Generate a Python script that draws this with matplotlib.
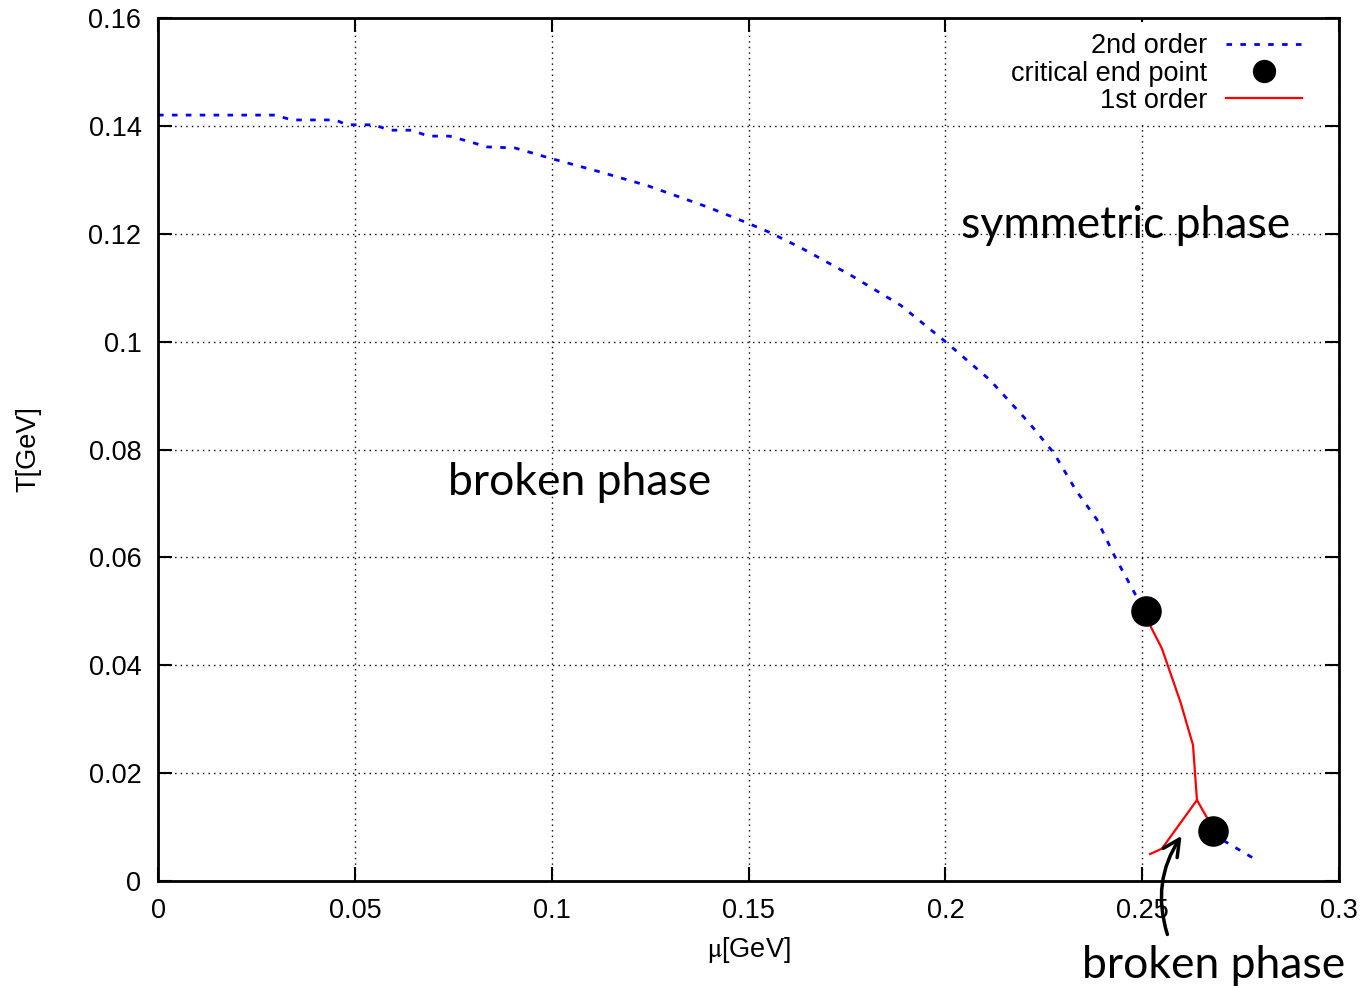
import matplotlib.pyplot as plt

plt.rcParams['mathtext.fontset'] = 'stix'

# second order line (chiral crossover), mu and T in GeV
mu_2nd = [0.0, 0.0297, 0.034, 0.045, 0.048, 0.0547, 0.059, 0.0645, 0.0686, 0.074,
          0.0785, 0.0836, 0.0907, 0.0996, 0.1126, 0.1244, 0.1398, 0.1497, 0.1552,
          0.1633, 0.1760, 0.1887, 0.2000, 0.2113, 0.2213, 0.2276, 0.2331, 0.2385,
          0.2430, 0.2485, 0.2510]
T_2nd = [0.1420, 0.1420, 0.1411, 0.1411, 0.1402, 0.1402, 0.1392, 0.1392, 0.1381, 0.1381,
         0.1372, 0.1361, 0.1359, 0.1340, 0.1314, 0.1289, 0.1249, 0.1220, 0.1203,
         0.1174, 0.1123, 0.1067, 0.1000, 0.0929, 0.0849, 0.0793, 0.0725, 0.0670,
         0.0602, 0.0528, 0.0500]

# second order piece beyond the lower end point
mu_2nd_low = [0.2681, 0.2711, 0.2783]
T_2nd_low = [0.0093, 0.0073, 0.0042]

# first order line between the two end points
mu_1st = [0.2510, 0.2522, 0.2550, 0.2597, 0.2629, 0.2639, 0.2664, 0.2681]
T_1st = [0.0500, 0.0471, 0.0431, 0.0332, 0.0252, 0.0150, 0.0118, 0.0093]

# first order branch going into the low-T broken phase
mu_1st_branch = [0.2639, 0.2550, 0.2520]
T_1st_branch = [0.0150, 0.0060, 0.0050]

# critical end points
cep_mu = [0.2510, 0.2681]
cep_T = [0.0500, 0.0093]

fig = plt.figure(figsize=(13.65, 9.89), dpi=100)
ax = fig.add_axes([0.1158, 0.1092, 0.9810 - 0.1158, 0.9818 - 0.1092])

tick_font = 'Liberation Sans'
note_font = 'Lato'

ax.plot(mu_2nd, T_2nd, color='blue', lw=2, linestyle=(0, (2, 3)), label='2nd order')
ax.plot(mu_2nd_low, T_2nd_low, color='blue', lw=2, linestyle=(0, (2, 3)))
ax.plot(cep_mu, cep_T, 'o', color='black', markersize=21, linestyle='none',
        label='critical end point', zorder=5)
ax.plot(mu_1st, T_1st, color='red', lw=1.6, label='1st order')
ax.plot(mu_1st_branch, T_1st_branch, color='red', lw=1.6)

ax.set_xlim(0, 0.3)
ax.set_ylim(0, 0.16)
ax.set_xticks([0, 0.05, 0.1, 0.15, 0.2, 0.25, 0.3])
ax.set_xticklabels(['0', '0.05', '0.1', '0.15', '0.2', '0.25', '0.3'])
ax.set_yticks([0, 0.02, 0.04, 0.06, 0.08, 0.1, 0.12, 0.14, 0.16])
ax.set_yticklabels(['0', '0.02', '0.04', '0.06', '0.08', '0.1', '0.12', '0.14', '0.16'])
ax.tick_params(direction='in', length=10, width=1.5, top=True, right=True,
               labelsize=19.5, pad=12)
for lab in ax.get_xticklabels() + ax.get_yticklabels():
    lab.set_fontfamily(tick_font)
for s in ax.spines.values():
    s.set_linewidth(2)
ax.grid(True, color='black', linestyle=(0, (1, 3)), lw=1)

ax.set_xlabel(r'$\mathrm{\mu}$[GeV]', fontsize=19.5, fontfamily=tick_font, labelpad=8)
ax.set_ylabel('T[GeV]', fontsize=19.5, fontfamily=tick_font, labelpad=34)

# legend on a plain white box so the grid does not run through the labels
leg = ax.legend(loc='upper right', bbox_to_anchor=(0.978, 0.995), frameon=True,
                fancybox=False, framealpha=1.0, markerfirst=False, markerscale=0.75,
                prop={'family': tick_font, 'size': 19.5}, labelspacing=0.05,
                handlelength=2.8, handletextpad=0.7, borderpad=0.4,
                borderaxespad=0.0)
leg.get_frame().set_edgecolor('none')
leg.get_frame().set_facecolor('white')
for t in leg.get_texts():
    t.set_ha('right')

ax.text(0.0737, 0.0716, 'broken phase', fontsize=32, fontfamily=note_font)
ax.text(0.2039, 0.1192, 'symmetric phase', fontsize=32, fontfamily=note_font)
ax.text(0.2682, -0.0156, 'broken phase', fontsize=32, fontfamily=note_font,
        ha='center', va='center', clip_on=False)
ax.annotate('', xy=(0.2604, 0.0088), xytext=(0.2566, -0.0104), annotation_clip=False,
            arrowprops=dict(arrowstyle='->', lw=2.5, color='black',
                            mutation_scale=30, connectionstyle='arc3,rad=-0.25'))

plt.savefig('out.png', dpi=100)
